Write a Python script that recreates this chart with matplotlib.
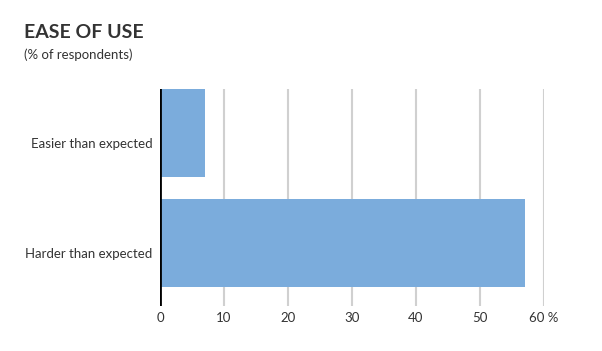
import matplotlib
matplotlib.use("Agg")
import matplotlib.pyplot as plt
from matplotlib.transforms import ScaledTranslation

categories = ["Harder than expected", "Easier than expected"]
values = [57, 7]
xticks = [0, 10, 20, 30, 40, 50, 60]
xticklabels = ["0", "10", "20", "30", "40", "50", "60 %"]

plt.rcParams['font.family'] = ['Lato', 'DejaVu Sans']

W, H = 602, 351
fig = plt.figure(figsize=(W / 100, H / 100), dpi=100)
ax = fig.add_axes([160 / W, 1 - 306 / H, (544 - 160) / W, (306 - 89) / H])

ypos = list(range(len(categories)))
ax.barh(ypos, values, height=0.8, color='#7bacdc', zorder=2)
ax.set_xlim(0, 60)
ax.set_ylim(-0.573, 1.4)

for t in xticks[1:]:
    ax.axvline(t, color='#d0d0d0', lw=1.5, zorder=1)
ax.axvline(0, color='black', lw=2, zorder=3)

for s in ax.spines.values():
    s.set_visible(False)

ax.set_xticks(xticks)
ax.set_xticklabels(xticklabels, fontsize=9.5, color='#333333')
ax.set_yticks(ypos)
ax.set_yticklabels(categories, fontsize=9.5, color='#333333')
ax.tick_params(axis='both', length=0)
ax.tick_params(axis='x', pad=4)
ax.tick_params(axis='y', pad=5.5)
for lab in ax.get_yticklabels():
    lab.set_transform(lab.get_transform() + ScaledTranslation(0, -0.10, fig.dpi_scale_trans))

fig.text(24 / W, 1 - 32 / H, "EASE OF USE", fontsize=14, fontweight='bold',
         color='#333333', va='center', ha='left')
fig.text(24 / W, 1 - 55 / H, "(% of respondents)", fontsize=9.5,
         color='#333333', va='center', ha='left')

fig.savefig("out.png", dpi=100)
